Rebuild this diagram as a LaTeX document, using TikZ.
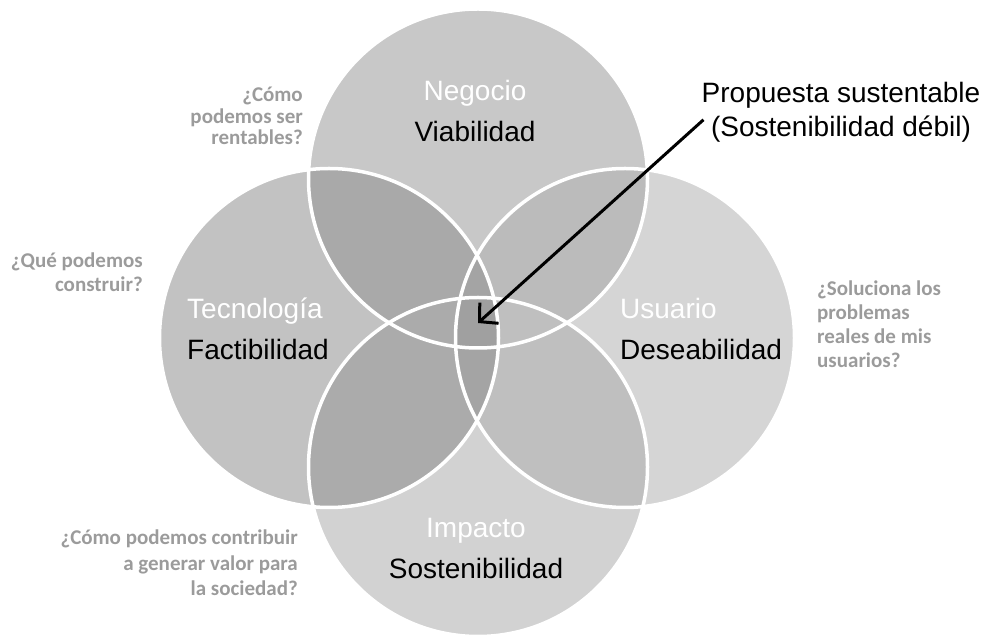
\documentclass[tikz,border=0pt]{standalone}
\usepackage{fontspec}
\setmainfont{Liberation Sans}
\newfontfamily\pregfont{Carlito}
\usepackage{tikz}
\usetikzlibrary{arrows.meta, positioning}

% tonos de los circulos y de sus cruces
\definecolor{grisneg}{HTML}{C8C8C8}
\definecolor{gristec}{HTML}{C2C2C2}
\definecolor{grisusu}{HTML}{D5D5D5}
\definecolor{grisimp}{HTML}{D2D2D2}
\definecolor{negtec}{HTML}{A9A9A9}
\definecolor{negusu}{HTML}{BBBBBB}
\definecolor{imptec}{HTML}{ABABAB}
\definecolor{impusu}{HTML}{BFBFBF}
\definecolor{tecusu}{HTML}{A4A4A4}
\definecolor{nucleo}{HTML}{A0A0A0}
\definecolor{pregunta}{HTML}{9B9B9B}

\begin{document}
\begin{tikzpicture}[
        x=1pt, y=1pt,
        every node/.style={inner sep=0pt},
        titulo/.style={text=white, font=\fontsize{28}{34}\selectfont, text height=20pt, text depth=6pt},
        meta/.style={text=black, font=\fontsize{28}{34}\selectfont, text height=20pt, text depth=6pt},
        nota/.style={text=black, font=\fontsize{28}{34}\selectfont, align=center},
        pregunta/.style={text=pregunta, font=\pregfont\bfseries\fontsize{21}{24}\selectfont},
        borde/.style={draw=white, line width=3.5pt},
        arr/.style={-{Straight Barb[length=13pt, width=28pt]}, line width=3pt}
    ]
        \useasboundingbox (0,0) rectangle (988,637);
        \def\radio{169.5}

        \coordinate (cneg) at (478,458.5);
        \coordinate (ctec) at (329,299);
        \coordinate (cusu) at (625,299);
        \coordinate (cimp) at (478,170);

        % circulos
        \fill[grisneg] (cneg) circle (\radio);
        \fill[gristec] (ctec) circle (\radio);
        \fill[grisusu] (cusu) circle (\radio);
        \fill[grisimp] (cimp) circle (\radio);

        % cruces de dos en dos
        \begin{scope}
            \clip (cneg) circle (\radio);
            \fill[negtec] (ctec) circle (\radio);
            \fill[negusu] (cusu) circle (\radio);
        \end{scope}
        \begin{scope}
            \clip (cimp) circle (\radio);
            \fill[imptec] (ctec) circle (\radio);
            \fill[impusu] (cusu) circle (\radio);
        \end{scope}
        \begin{scope}
            \clip (ctec) circle (\radio);
            \clip (cusu) circle (\radio);
            \fill[tecusu] (cusu) circle (\radio);
            \clip (cneg) circle (\radio);
            \fill[nucleo] (cimp) circle (\radio);
        \end{scope}

        \foreach \c in {cneg,ctec,cusu,cimp}
            \draw[borde] (\c) circle (\radio);

        % etiquetas de cada circulo
        \node[titulo, anchor=base] (negocio) at (475,536) {Negocio};
        \node[meta, below=14pt of negocio] (viabilidad) {Viabilidad};
        \node[titulo, anchor=base west] (tecnologia) at (187,318) {Tecnología};
        \node[meta, below right=14pt and 0pt of tecnologia.south west] (factibilidad) {Factibilidad};
        \node[titulo, anchor=base west] (usuario) at (620,318) {Usuario};
        \node[meta, below right=14pt and 0pt of usuario.south west] (deseabilidad) {Deseabilidad};
        \node[titulo, anchor=base] (impacto) at (476,99) {Impacto};
        \node[meta, below=14pt of impacto] (sostenibilidad) {Sostenibilidad};

        % preguntas (base = ultima linea)
        \node[pregunta, font=\pregfont\bfseries\fontsize{21}{21.5}\selectfont, align=right, anchor=base east] (rentables) at (303,492) {¿Cómo\\podemos ser\\rentables?};
        \node[pregunta, align=right, anchor=base east] (construir) at (143,345) {¿Qué podemos\\construir?};
        \node[pregunta, align=left, anchor=base west] (usuarios) at (817,269) {¿Soluciona los\\problemas\\reales de mis\\usuarios?};
        \node[pregunta, font=\pregfont\bfseries\fontsize{21}{25.5}\selectfont, align=right, anchor=base east] (sociedad) at (298,41) {¿Cómo podemos contribuir\\a generar valor para\hspace*{0.25em}\\la sociedad?};

        % propuesta y flecha al centro
        \node[nota, anchor=base] (propuesta) at (841,500) {Propuesta sustentable\\(Sostenibilidad débil)};
        \coordinate (centro) at (478,314);
        \draw[arr] ([xshift=2pt, yshift=-7pt]propuesta.west) -- (centro);
    \end{tikzpicture}
\end{document}
